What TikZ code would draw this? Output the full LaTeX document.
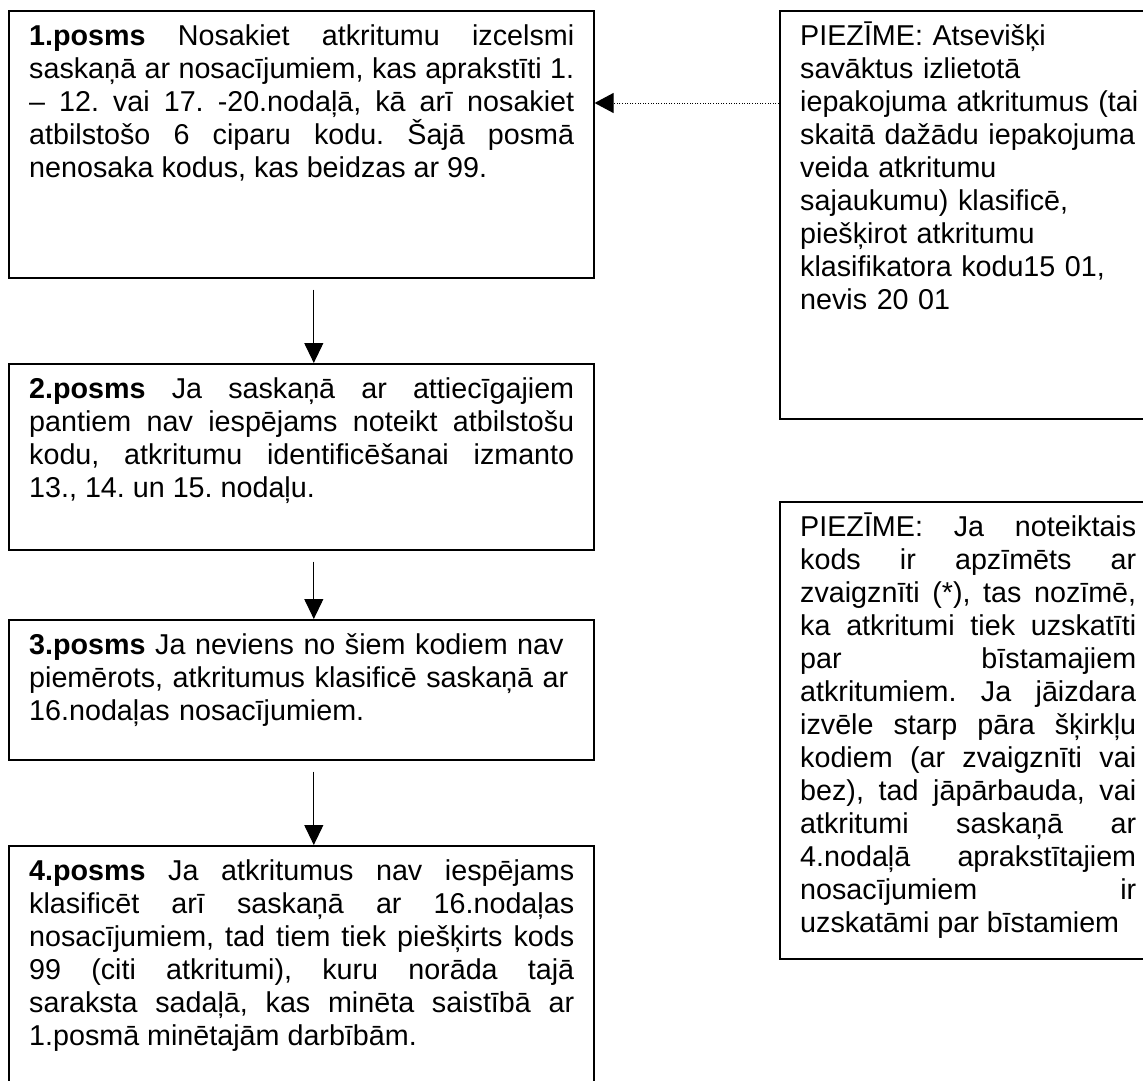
\documentclass[tikz,border=0pt]{standalone}
\usepackage{fontspec}
\setmainfont{Liberation Sans}
\usetikzlibrary{arrows.meta,calc}
\setlength\parindent{0pt}
% body text: Arial-sized type, no hyphenation, loose justification
\newcommand\bodyfont{\fontsize{28.7}{33}\selectfont\frenchspacing\hyphenpenalty=10000\exhyphenpenalty=10000\tolerance=10000\hbadness=10000}
\newcommand\topstrut{\rule{0pt}{27pt}}

\begin{document}
\begin{tikzpicture}[x=1pt,y=-1pt,
  frame/.style={draw, line width=1.6pt, rectangle, inner sep=0pt, anchor=north west},
  body/.style={inner sep=0pt, anchor=north west, font=\bodyfont},
  wide/.style={body, text width=545pt},
  narrow/.style={body, text width=336pt},
  flow/.style={line width=1.1pt, -{Triangle[length=20pt,width=19pt]}},
  note/.style={line width=1pt, dash pattern=on 1pt off 1.6pt, -{Triangle[length=19pt,width=20pt]}}
]
\path[use as bounding box] (0,0) rectangle (1143,1081);
\clip (0,0) rectangle (1143,1081);

% step boxes on the left
\node[frame, minimum width=585pt, minimum height=267pt] (b1) at (8,10) {};
\node[frame, minimum width=585pt, minimum height=186pt] (b2) at (8,363) {};
\node[frame, minimum width=585pt, minimum height=140pt] (b3) at (8,619) {};
\node[frame, minimum width=585pt, minimum height=300pt] (b4) at (8,845) {};

% note boxes on the right
\node[frame, minimum width=400pt, minimum height=408pt] (n1) at (779,10) {};
\node[frame, minimum width=400pt, minimum height=457pt] (n2) at (779,501) {};

% texts
\node[wide, align=justify] (t1) at ($(b1.north west)+(21,8)$) {\topstrut\textbf{1.posms} Nosakiet atkritumu izcelsmi\linebreak
saskaņā ar nosacījumiem, kas aprakstīti 1.\linebreak
– 12. vai 17. -20.nodaļā, kā arī nosakiet\linebreak
atbilstošo 6 ciparu kodu. Šajā posmā\linebreak
nenosaka kodus, kas beidzas ar 99.};

\node[wide, align=justify] (t2) at ($(b2.north west)+(21,8)$) {\topstrut\textbf{2.posms} Ja saskaņā ar attiecīgajiem\linebreak
pantiem nav iespējams noteikt atbilstošu\linebreak
kodu, atkritumu identificēšanai izmanto\linebreak
13., 14. un 15. nodaļu.};

\node[wide, align=left] (t3) at ($(b3.north west)+(21,8)$) {\topstrut\textbf{3.posms} Ja neviens no šiem kodiem nav\\
piemērots, atkritumus klasificē saskaņā ar\\
16.nodaļas nosacījumiem.};

\node[wide, align=justify] (t4) at ($(b4.north west)+(21,8)$) {\topstrut\textbf{4.posms} Ja atkritumus nav iespējams\linebreak
klasificēt arī saskaņā ar 16.nodaļas\linebreak
nosacījumiem, tad tiem tiek piešķirts kods\linebreak
99 (citi atkritumi), kuru norāda tajā\linebreak
saraksta sadaļā, kas minēta saistībā ar\linebreak
1.posmā minētajām darbībām.};

\node[narrow, text width=350pt, align=left] (m1) at ($(n1.north west)+(21,8)$) {\topstrut PIEZĪME: Atsevišķi\\
savāktus izlietotā\\
iepakojuma atkritumus (tai\\
skaitā dažādu iepakojuma\\
veida atkritumu\\
sajaukumu) klasificē,\\
piešķirot atkritumu\\
klasifikatora kodu15 01,\\
nevis 20 01};

\node[narrow, align=justify] (m2) at ($(n2.north west)+(21,8)$) {\topstrut PIEZĪME: Ja noteiktais\linebreak
kods ir apzīmēts ar\linebreak
zvaigznīti (*), tas nozīmē,\linebreak
ka atkritumi tiek uzskatīti\linebreak
par bīstamajiem\linebreak
atkritumiem. Ja jāizdara\linebreak
izvēle starp pāra šķirkļu\linebreak
kodiem (ar zvaigznīti vai\linebreak
bez), tad jāpārbauda, vai\linebreak
atkritumi saskaņā ar\linebreak
4.nodaļā aprakstītajiem\linebreak
nosacījumiem ir\linebreak
uzskatāmi par bīstamiem};

% connectors
\draw[flow] ($(b1.south)+(12.5,11)$) -- ($(b2.north)+(12.5,0)$);
\draw[flow] ($(b2.south)+(12.5,11)$) -- ($(b3.north)+(12.5,0)$);
\draw[flow] ($(b3.south)+(12.5,11)$) -- ($(b4.north)+(12.5,0)$);
\draw[note] ($(n1.north west)+(0,93)$) -- ($(b1.north east)+(0,93)$);
\end{tikzpicture}
\end{document}
